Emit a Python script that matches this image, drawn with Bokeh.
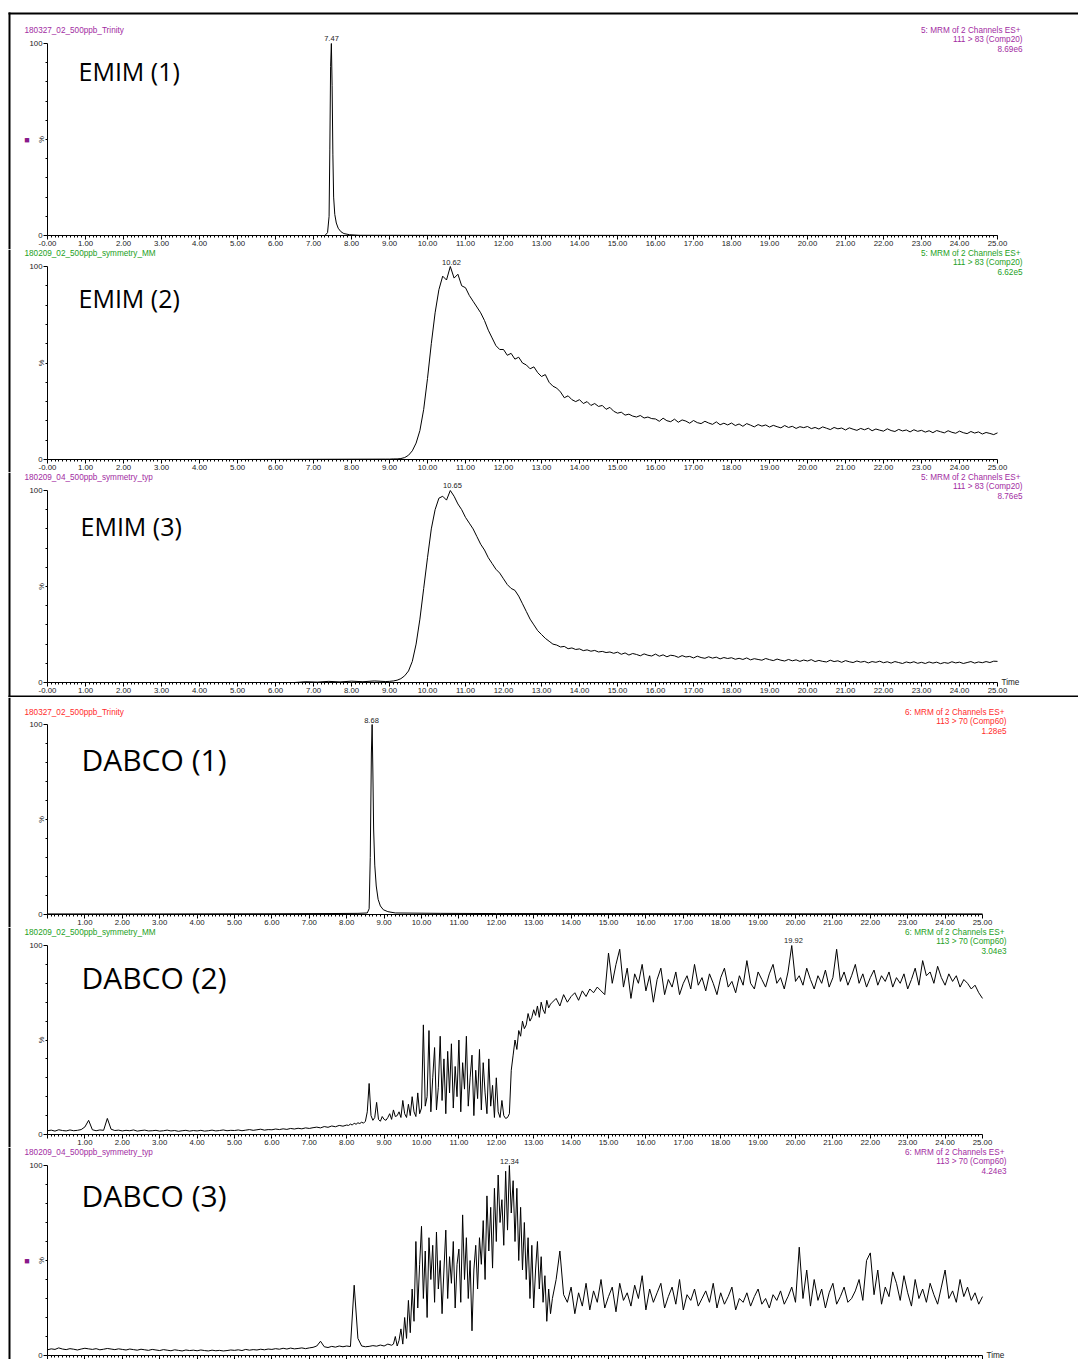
from bokeh.plotting import figure
from bokeh.layouts import column
from bokeh.models import FixedTicker, Label, PrintfTickFormatter, Range1d, BoxAnnotation
from bokeh.embed import file_html
from bokeh.resources import INLINE
import math

# ---------------- data (minutes, % of base peak) ----------------
EMIM1_T = [0.0, 7.30, 7.37, 7.41, 7.43, 7.45, 7.47, 7.49, 7.51, 7.53, 7.56, 7.60, 7.65, 7.72, 7.80, 7.95, 8.20, 25.0]
EMIM1_V = [0.0, 0.0, 1.5, 10, 45, 88, 100, 78, 42, 20, 11, 6.5, 3.8, 2.0, 1.0, 0.4, 0.1, 0.0]

EMIM2_PRE_T = [0.0, 5.0, 8.9]
EMIM2_PRE_V = [0.0, 0.0, 0.2]
EMIM2_START, EMIM2_STEP = 9.0, 0.1
EMIM2_V = [
    0.2, 0.3, 0.3, 0.5, 1.0, 2.2, 4.5, 8.5, 15, 26,
    42, 60, 76, 88, 95, 93, 100, 94, 96, 90,
    89, 85, 82, 79, 76, 72, 67, 63, 59, 57,
    57, 54, 55, 52, 53, 50, 49, 47, 48, 45,
    43, 44, 40, 38, 37, 35, 32, 33, 31, 30,
    31, 29, 30, 28, 29, 27.5, 28, 26, 27, 25,
    24, 24.5, 23, 23.5, 22.5, 22, 22.8, 21.5, 22, 21.2,
    21.0, 19.8, 21.4, 20.1, 19.6, 20.9, 19.3, 20.5, 19.9, 18.8,
    20.2, 19.1, 18.6, 19.8, 18.9, 18.2, 19.5, 18.0, 18.8, 17.9,
    18.9, 17.6, 18.4, 17.2, 18.6, 17.8, 16.9, 18.1, 17.3, 17.9,
    16.8, 17.7, 17.0, 16.4, 17.6, 16.6, 17.2, 16.1, 17.0, 16.5,
    17.1, 16.0, 16.6, 15.8, 16.9, 16.2, 15.5, 16.6, 15.9, 16.3,
    15.3, 16.4, 15.7, 15.1, 16.1, 15.4, 16.2, 14.9, 15.8, 15.2,
    14.7, 15.9, 15.0, 14.5, 15.6, 14.8, 15.3, 14.3, 15.4, 14.6,
    15.1, 14.2, 14.9, 13.9, 15.0, 14.4, 13.8, 14.9, 14.1, 13.6,
    14.7, 13.9, 13.4, 14.5, 13.7, 14.3, 13.2, 14.0, 13.5, 12.9,
    13.8,
]

EMIM3_PRE_T = [0.0, 6.5, 6.8, 7.1, 7.4, 7.7, 8.0, 8.3, 8.6, 8.9]
EMIM3_PRE_V = [0.0, 0.0, 0.4, 0.2, 0.6, 0.3, 0.7, 0.4, 0.8, 0.5]
EMIM3_START, EMIM3_STEP = 9.0, 0.1
EMIM3_V = [
    0.6, 0.8, 1.2, 2.0, 3.5, 6, 11, 20, 33, 49,
    65, 80, 90, 96, 97, 95, 100, 97, 93, 90,
    86, 83, 80, 76, 72, 69, 65, 62, 59, 57,
    54, 51, 49, 48, 45, 41, 37, 33, 30, 27,
    25, 23, 21.5, 20, 19.5, 18.5, 18.8, 17.6, 18, 17.2,
    17.5, 16.6, 17, 16.3, 16.7, 15.9, 16.2, 15.6, 15.9, 15.2,
    15.8, 14.7, 15.4, 14.3, 15.1, 14.6, 13.9, 14.9, 14.2, 13.8,
    14.8, 13.7, 14.4, 13.4, 14.2, 13.9, 13.1, 14.0, 13.3, 13.6,
    12.8, 13.7, 13.0, 12.6, 13.4, 12.7, 13.2, 12.3, 13.0, 12.5,
    12.9, 12.1, 12.6, 12.0, 12.8, 11.8, 12.4, 12.0, 11.6, 12.5,
    11.9, 11.4, 12.2, 11.6, 11.2, 12.0, 11.3, 11.8, 11.0, 11.7,
    11.2, 11.9, 10.9, 11.5, 11.0, 10.7, 11.6, 10.9, 11.3, 10.5,
    11.4, 10.8, 10.4, 11.2, 10.6, 11.0, 10.2, 10.9, 10.5, 11.1,
    10.3, 10.8, 10.1, 10.9, 10.4, 9.9, 10.7, 10.2, 10.8, 10.0,
    10.5, 9.9, 10.7, 10.1, 10.6, 9.8, 10.4, 10.0, 10.8, 10.2,
    10.6, 9.9, 10.4, 10.9, 10.1, 10.7, 10.3, 10.9, 10.4, 11.1,
    11.0,
]

DABCO1_T = [0.0, 3.0, 6.0, 7.5, 8.3, 8.55, 8.60, 8.63, 8.66, 8.68, 8.70, 8.72, 8.75, 8.79, 8.84, 8.90, 8.98, 9.10, 9.30, 10.5, 12.0, 25.0]
DABCO1_V = [0.3, 0.3, 0.4, 0.5, 0.6, 0.8, 3, 30, 85, 100, 75, 45, 26, 15, 8, 4.5, 2.5, 1.5, 0.8, 0.6, 0.5, 0.3]

DABCO2_A_START, DABCO2_A_STEP = 0.0, 0.1
DABCO2_A = [
    2.0, 2.3, 1.8, 2.5, 2.1, 1.9, 2.4, 2.0, 2.2, 2.6,
    4.0, 7.5, 2.5, 2.0, 2.4, 2.2, 8.5, 2.8, 2.1, 2.3,
    1.9, 2.2, 2.0, 2.4, 1.8, 2.1, 2.3, 1.9, 2.0, 2.2,
    1.8, 2.0, 2.3, 1.9, 2.1, 1.7, 2.0, 2.2, 1.8, 2.1,
    1.9, 2.2, 1.8, 2.0, 2.3, 1.9, 2.1, 2.4, 2.0, 2.2,
    2.1, 2.4, 2.0, 2.3, 2.6, 2.2, 2.5, 2.8, 2.3, 2.6,
    2.5, 2.9, 2.6, 3.0, 2.7, 3.2, 2.9, 3.3, 3.0, 3.5,
    3.2, 3.6, 3.9, 3.5, 4.2, 3.8, 4.5, 4.1, 4.8, 4.4,
    5.0,
]
DABCO2_B_START, DABCO2_B_STEP = 8.05, 0.05
DABCO2_B = [
    4.8, 5.5, 5.0, 6.0, 5.4, 6.2, 5.8, 6.5, 6.0, 7.0,
    12, 27, 10, 7.5, 9, 17, 8, 7, 9.5, 8,
    7.5, 9, 11, 8, 13, 9.5, 10, 12, 9, 18,
    11, 9, 16, 10, 20, 12, 9.5, 22, 11, 14,
    58, 15, 20, 55, 12, 30, 46, 13, 25, 52,
    18, 40, 11, 44, 22, 48, 14, 36, 20, 50,
    12, 38, 24, 52, 15, 30, 42, 10, 34, 19,
    45, 13, 38, 22, 11, 40, 15, 26, 9, 30,
    12, 9, 18, 10, 8.5, 9, 11, 34, 42, 50,
    45, 55, 52, 60, 56, 58, 64, 60, 62, 66,
    63, 68, 62, 70, 66, 64, 71, 67, 69, 70,
]
DABCO2_C_START, DABCO2_C_STEP = 13.6, 0.1
DABCO2_C = [
    72, 68, 74, 70, 73, 75, 71, 76, 73, 77,
    75, 78, 76, 74, 96, 80, 90, 98, 78, 88,
    72, 85, 80, 90, 76, 84, 70, 82, 88, 74,
    82, 78, 86, 74, 80, 84, 77, 90, 79, 83,
    76, 85, 80, 74, 83, 88, 78, 81, 75, 84,
    79, 92, 80, 77, 86, 82, 78, 85, 90, 80,
    83, 77, 86, 100, 81, 84, 79, 88, 82, 77,
    84, 80, 87, 78, 83, 98, 81, 86, 79, 84,
    90, 80, 85, 78, 83, 87, 79, 84, 81, 86,
    78, 83, 80, 85, 77, 82, 88, 79, 92, 84,
    86, 80, 89, 83, 79, 85, 81, 84, 78, 82,
    80, 77, 79, 75, 72,
]

DABCO3_A_START, DABCO3_A_STEP = 0.0, 0.1
DABCO3_A = [
    3.0, 3.5, 3.2, 4.0, 3.4, 3.1, 3.6, 3.3, 2.9, 3.4,
    3.8, 3.5, 3.2, 3.6, 3.0, 3.3, 3.7, 3.4, 3.1, 3.5,
    3.2, 2.9, 3.4, 3.1, 2.8, 3.3, 3.0, 2.7, 3.2, 2.9,
    2.6, 3.1, 2.8, 2.5, 3.0, 2.7, 2.4, 2.9, 2.6, 2.8,
    2.5, 2.9, 2.6, 2.4, 2.8, 2.5, 2.7, 2.4, 2.6, 2.9,
    2.7, 3.0, 2.6, 3.2, 2.8, 3.1, 2.9, 3.3, 3.0, 3.4,
    3.2, 3.6, 3.3, 3.8, 3.4, 3.9, 3.5, 3.7, 4.0, 3.6,
    4.0, 4.3, 5.0, 7.5, 4.6, 4.2, 4.8, 4.4, 5.0, 4.6,
    5.0, 4.7, 37, 9, 5.0, 4.6, 4.8, 5.2, 4.9, 5.5,
    5.0, 6.0, 5.4,
]
DABCO3_B_START, DABCO3_B_STEP = 9.25, 0.05
DABCO3_B = [
    6, 10, 5, 8, 14, 6, 20, 9, 29, 12,
    35, 18, 60, 25, 48, 68, 30, 55, 20, 62,
    40, 58, 28, 65, 35, 50, 22, 45, 66, 30,
    52, 38, 60, 25, 48, 56, 28, 74, 40, 62,
    30, 50, 13, 45, 58, 35, 62, 48, 71, 40,
    84, 55, 78, 46, 88, 60, 95, 70, 82, 58,
    97, 66, 100, 75, 92, 60, 88, 50, 78, 45,
    70, 40, 62, 30, 58, 25, 45, 60, 35, 52,
    28, 42, 18, 35, 22, 30,
]
DABCO3_C_START, DABCO3_C_STEP = 13.6, 0.1
DABCO3_C = [
    40, 55, 32, 28, 36, 22, 33, 26, 38, 24,
    34, 28, 40, 25, 31, 36, 23, 38, 29, 33,
    26, 37, 30, 42, 24, 35, 28, 33, 38, 25,
    31, 36, 27, 40, 24, 32, 29, 35, 26, 30,
    34, 28, 38, 25, 33, 27, 31, 36, 24, 30,
    28, 33, 26, 31, 35, 27, 30, 25, 32, 29,
    34, 27, 31, 36, 28, 57, 30, 45, 26, 40,
    29, 35, 25, 33, 38, 27, 31, 36, 28, 30,
    34, 40, 29, 50, 54, 32, 45, 27, 36, 31,
    44, 38, 29, 42, 33, 26, 40, 30, 35, 28,
    38, 32, 27, 36, 45, 30, 34, 28, 40, 31,
    36, 29, 33, 27, 31,
]

X_TICKS = list(range(0, 26))
Y_TICKS = [0, 100]

SAMPLES = ["180327_02_500ppb_Trinity", "180209_02_500ppb_symmetry_MM", "180209_04_500ppb_symmetry_typ",
           "180327_02_500ppb_Trinity", "180209_02_500ppb_symmetry_MM", "180209_04_500ppb_symmetry_typ"]
CH_LINE1 = ["5: MRM of 2 Channels ES+"] * 3 + ["6: MRM of 2 Channels ES+"] * 3
CH_LINE2 = ["111 > 83 (Comp20)"] * 3 + ["113 > 70 (Comp60)"] * 3
INTENSITY = ["8.69e6", "6.62e5", "8.76e5", "1.28e5", "3.04e3", "4.24e3"]
PEAK_RT = [7.47, 10.62, 10.65, 8.68, 19.92, 12.34]
NAMES = ["EMIM (1)", "EMIM (2)", "EMIM (3)", "DABCO (1)", "DABCO (2)", "DABCO (3)"]


def grid(start, step, n):
    return [round(start + step * i, 3) for i in range(n)]


def series(pre_t, pre_v, segs):
    t, v = list(pre_t), list(pre_v)
    for start, step, vals in segs:
        t += grid(start, step, len(vals))
        v += list(vals)
    return t, v


PURPLE = "#a22ca2"
GREEN = "#23a023"
RED = "#ff2b2b"
SMALL = "Liberation Sans"
BIG = "Open Sans"
PAGE_W = 1078
INFO_SIZE = "8.2px"
TICK_SIZE = "7.8px"


class Geo:
    """Maps page pixels to the panel's data space (frame covers the whole canvas)."""
    def __init__(self, fig_top, fig_h, top, bottom, right):
        self.fig_top, self.fig_h = fig_top, fig_h
        self.top, self.bottom, self.right = top, bottom, right

    def X(self, px):
        return (px - 47.0) / (self.right - 47.0) * 25.0

    def Y(self, py):
        return (self.bottom - py) / (self.bottom - self.top) * 100.0


def txt(p, g, px, py, text, color="#222222", size=INFO_SIZE, align="left", font=SMALL, angle=0.0):
    p.add_layout(Label(x=g.X(px), y=g.Y(py), text=text, text_color=color, text_font_size=size,
                       text_align=align, text_baseline="middle", text_font=font, angle=angle))


def box(p, **kw):
    p.add_layout(BoxAnnotation(fill_color="black", fill_alpha=1.0, line_color=None, **kw))


def panel(i, t, v, g, colour, zero_label, show_xlabels, sample_py, peak_px, peak_py,
          name_px, name_py, name_size, right_px, time_px=None, marker=False):
    p = figure(width=PAGE_W, height=g.fig_h,
               x_range=Range1d(g.X(0), g.X(PAGE_W)),
               y_range=Range1d(g.Y(g.fig_top + g.fig_h), g.Y(g.fig_top)),
               output_backend="svg", toolbar_location=None, min_border=0,
               outline_line_color=None, background_fill_color="white", border_fill_color="white")
    p.grid.visible = False
    p.line(t, v, line_color="black", line_width=1)

    xa = p.xaxis[0]
    xa.fixed_location = 0
    xa.bounds = (0, 25)
    xa.ticker = FixedTicker(ticks=X_TICKS, minor_ticks=[k / 10 for k in range(251) if k % 10])
    xa.formatter = PrintfTickFormatter(format="%.2f")
    xa.major_label_overrides = {0: zero_label}
    xa.major_tick_out = 4
    xa.major_tick_in = 0
    xa.minor_tick_out = 2
    xa.minor_tick_in = 0
    xa.major_label_standoff = 1
    xa.major_label_text_font = SMALL
    xa.major_label_text_font_size = TICK_SIZE
    xa.major_label_text_color = "#222222" if show_xlabels else None
    xa.axis_line_color = "black"

    ya = p.yaxis[0]
    ya.fixed_location = 0
    ya.bounds = (0, 100)
    ya.ticker = FixedTicker(ticks=Y_TICKS, minor_ticks=list(range(10, 100, 10)))
    ya.major_tick_out = 4
    ya.major_tick_in = 0
    ya.minor_tick_out = 2
    ya.minor_tick_in = 0
    ya.major_label_standoff = 1
    ya.major_label_text_font = SMALL
    ya.major_label_text_font_size = TICK_SIZE
    ya.major_label_text_color = "#222222"
    ya.axis_line_color = "black"

    txt(p, g, 24, sample_py, SAMPLES[i], color=colour)
    txt(p, g, right_px, sample_py, CH_LINE1[i], color=colour, align="right")
    txt(p, g, right_px + 2, sample_py + 9, CH_LINE2[i], color=colour, align="right")
    txt(p, g, right_px + 2, sample_py + 18, INTENSITY[i], color=colour, align="right")
    txt(p, g, peak_px, peak_py, "%.2f" % PEAK_RT[i], align="center", size="7.5px")
    txt(p, g, name_px, name_py, NAMES[i], color="black", size=name_size, font=BIG)
    mid = (g.top + g.bottom) / 2.0
    txt(p, g, 41, mid, "%", size="7.5px", align="center", angle=math.pi / 2)
    if marker:
        txt(p, g, 26.5, mid, "\u25a0", color="#8a1a8a", size="9px", align="center")
    if time_px is not None:
        txt(p, g, time_px, g.bottom, "Time", size=INFO_SIZE)
    # page frame (left rule)
    box(p, left=g.X(8), right=g.X(10), top=g.Y(max(g.fig_top, 12)))
    return p


e1 = (EMIM1_T, EMIM1_V)
e2 = series(EMIM2_PRE_T, EMIM2_PRE_V, [(EMIM2_START, EMIM2_STEP, EMIM2_V)])
e3 = series(EMIM3_PRE_T, EMIM3_PRE_V, [(EMIM3_START, EMIM3_STEP, EMIM3_V)])
d1 = (DABCO1_T, DABCO1_V)
d2 = series([], [], [(DABCO2_A_START, DABCO2_A_STEP, DABCO2_A), (DABCO2_B_START, DABCO2_B_STEP, DABCO2_B),
                     (DABCO2_C_START, DABCO2_C_STEP, DABCO2_C)])
d3 = series([], [], [(DABCO3_A_START, DABCO3_A_STEP, DABCO3_A), (DABCO3_B_START, DABCO3_B_STEP, DABCO3_B),
                     (DABCO3_C_START, DABCO3_C_STEP, DABCO3_C)])

g1 = Geo(0, 249, 43, 235, 997)
g2 = Geo(249, 223, 266, 459, 997)
g3 = Geo(472, 225, 490, 682, 997)
g4 = Geo(697, 230, 724, 914, 982)
g5 = Geo(927, 220, 945, 1134, 982)
g6 = Geo(1147, 212, 1165, 1355, 982)

p1 = panel(0, *e1, g1, PURPLE, "-0.00", True, 30, 331, 38, 78, 70, "25px", 1020, marker=True)
p2 = panel(1, *e2, g2, GREEN, "-0.00", True, 253, 451, 262, 78, 297, "25px", 1020)
p3 = panel(2, *e3, g3, PURPLE, "-0.00", True, 477, 452, 485, 80, 525, "25px", 1020, time_px=1001)
p4 = panel(3, *d1, g4, RED, "", True, 712, 371, 720, 81, 759, "30px", 1004)
p5 = panel(4, *d2, g5, GREEN, "", True, 932, 793, 940, 81, 977, "30px", 1004)
p6 = panel(5, *d3, g6, PURPLE, "", False, 1152, 509, 1161, 81, 1195, "30px", 1004,
           time_px=986, marker=True)

# top rule of the page frame and the divider between the two blocks
box(p1, left=g1.X(8), top=g1.Y(12), bottom=g1.Y(14))
box(p3, left=g3.X(8), top=g3.Y(695))

layout = column(p1, p2, p3, p4, p5, p6, spacing=0)

open("out.html", "w").write(file_html(layout, INLINE))
